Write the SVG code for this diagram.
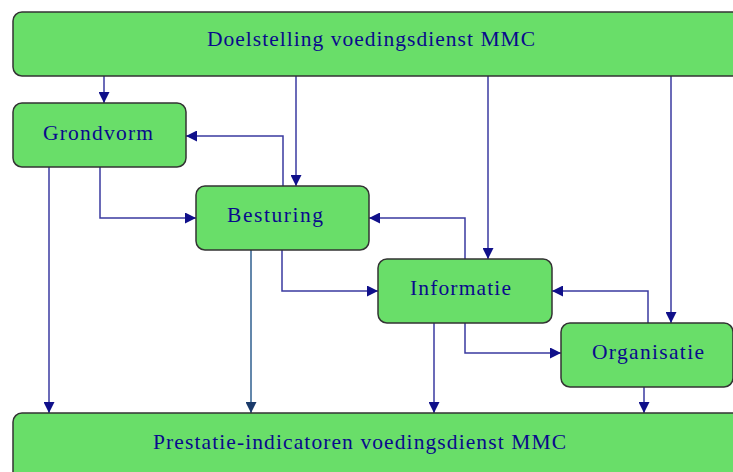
<svg xmlns="http://www.w3.org/2000/svg" width="733" height="472" viewBox="0 0 733 472">
<defs>
<style>
.box{fill:#69de69;stroke:#333333;stroke-width:1.5}
.lbl{font-family:"Liberation Serif","DejaVu Serif",serif;font-size:21.5px;fill:#0a0a8c}
.ln{fill:none;stroke:#3a3aa0;stroke-width:1.5}
.ln2{fill:none;stroke:#2f5f8f;stroke-width:1.5}
</style>
<marker id="ah" viewBox="0 0 10 10" refX="10" refY="5" markerWidth="11" markerHeight="11" markerUnits="userSpaceOnUse" orient="auto">
<path d="M0,0 L10,5 L0,10 Z" fill="#10108a"/>
</marker>
<marker id="ah2" viewBox="0 0 10 10" refX="10" refY="5" markerWidth="11" markerHeight="11" markerUnits="userSpaceOnUse" orient="auto">
<path d="M0,0 L10,5 L0,10 Z" fill="#1a3a6a"/>
</marker>
</defs>
<rect width="733" height="472" fill="#ffffff"/>
<g id="connectors">
<path class="ln" d="M104,76 V103" marker-end="url(#ah)"/>
<path class="ln" d="M296,76 V186" marker-end="url(#ah)"/>
<path class="ln" d="M488,76 V259" marker-end="url(#ah)"/>
<path class="ln" d="M671,76 V323" marker-end="url(#ah)"/>
<path class="ln" d="M283,186 V136 H186" marker-end="url(#ah)"/>
<path class="ln" d="M100,167 V218 H196" marker-end="url(#ah)"/>
<path class="ln" d="M49,167 V413" marker-end="url(#ah)"/>
<path class="ln2" d="M251,250 V413" marker-end="url(#ah2)"/>
<path class="ln" d="M282,250 V291 H378" marker-end="url(#ah)"/>
<path class="ln" d="M465,259 V218 H369" marker-end="url(#ah)"/>
<path class="ln" d="M434,323 V413" marker-end="url(#ah)"/>
<path class="ln" d="M465,323 V353 H561" marker-end="url(#ah)"/>
<path class="ln" d="M648,323 V291 H552" marker-end="url(#ah)"/>
<path class="ln" d="M644,387 V413" marker-end="url(#ah)"/>
</g>
<g id="doelstelling">
<rect class="box" x="13" y="12" width="740" height="64" rx="9"/>
<text class="lbl" x="207" y="46" textLength="328" lengthAdjust="spacing">Doelstelling voedingsdienst MMC</text>
</g>
<g id="grondvorm">
<rect class="box" x="13" y="103" width="173" height="64" rx="9"/>
<text class="lbl" x="43" y="140" textLength="110" lengthAdjust="spacing">Grondvorm</text>
</g>
<g id="besturing">
<rect class="box" x="196" y="186" width="173" height="64" rx="9"/>
<text class="lbl" x="227" y="222" textLength="96" lengthAdjust="spacing">Besturing</text>
</g>
<g id="informatie">
<rect class="box" x="378" y="259" width="174" height="64" rx="9"/>
<text class="lbl" x="410" y="295" textLength="101" lengthAdjust="spacing">Informatie</text>
</g>
<g id="organisatie">
<rect class="box" x="561" y="323" width="172" height="64" rx="9"/>
<text class="lbl" x="592" y="359" textLength="112" lengthAdjust="spacing">Organisatie</text>
</g>
<g id="prestatie">
<rect class="box" x="13" y="413" width="740" height="80" rx="9"/>
<text class="lbl" x="153" y="449" textLength="413" lengthAdjust="spacing">Prestatie-indicatoren voedingsdienst MMC</text>
</g>
</svg>
